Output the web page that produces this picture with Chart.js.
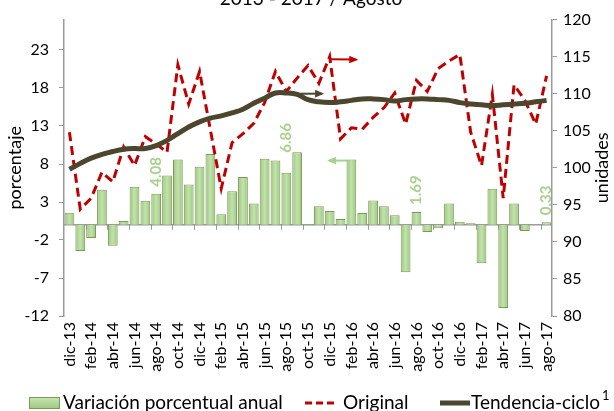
<!DOCTYPE html>
<html><head><meta charset="utf-8">
<script src="https://cdn.jsdelivr.net/npm/chart.js@4.4.0/dist/chart.umd.min.js"></script>
<style>html,body{margin:0;padding:0;background:#fff;}#wrap{width:614px;height:411px;position:relative;}</style>
</head><body><div id="wrap"><canvas id="c" width="614" height="411"></canvas></div>
<script>
const months = ['dic-13','ene-14','feb-14','mar-14','abr-14','may-14','jun-14','jul-14','ago-14','sep-14','oct-14','nov-14',
'dic-14','ene-15','feb-15','mar-15','abr-15','may-15','jun-15','jul-15','ago-15','sep-15','oct-15','nov-15',
'dic-15','ene-16','feb-16','mar-16','abr-16','may-16','jun-16','jul-16','ago-16','sep-16','oct-16','nov-16',
'dic-16','ene-17','feb-17','mar-17','abr-17','may-17','jun-17','jul-17','ago-17'];
const variacion = [1.6,-3.45,-1.75,4.6,-2.75,0.5,5.0,3.15,4.08,6.5,8.6,5.3,
7.65,9.3,1.4,4.4,6.3,2.8,8.7,8.45,6.86,9.55,-0.1,2.45,
1.8,0.75,8.6,1.55,3.2,2.45,1.25,-6.25,1.69,-0.95,-0.45,2.8,
0.4,0.2,-5.05,4.75,-10.95,2.8,-0.8,0.05,0.33];
const original = [104.8,94.4,95.9,99.4,98.1,102.8,100.3,104.2,103.2,102.1,113.9,108.6,
113.0,105.1,97.2,103.4,104.6,106.0,108.8,113.0,110.3,112.1,113.8,111.4,
115.0,103.9,105.4,105.2,106.8,108.1,110.1,105.9,111.8,110.3,113.4,114.4,
115.3,104.8,100.3,109.9,95.9,111.2,109.1,105.9,112.4];
const tendencia = [99.8,100.6,101.3,101.8,102.2,102.5,102.6,102.6,103.0,103.7,104.6,105.5,
106.2,106.7,107.0,107.4,107.9,108.7,109.4,110.1,110.1,109.9,109.2,108.9,
108.8,108.9,109.1,109.3,109.3,109.2,109.0,109.2,109.3,109.3,109.2,109.1,
108.8,108.6,108.5,108.4,108.5,108.6,108.7,108.9,109.1];
const leftTicks = [-12,-7,-2,3,8,13,18,23];
const rightTicks = [80,85,90,95,100,105,110,115,120];
const seriesNames = ['Variación porcentual anual','Original','Tendencia-ciclo'];
const titleText = '2013 - 2017 / Agosto';
const leftTitle = 'porcentaje';
const rightTitle = 'unidades';

const FONT = 'Lato, "Open Sans", sans-serif';
const GREEN = '#a9d18e';
const AXIS = '#9a9a9a';

function barFill(ctx){
  const chart = ctx.chart;
  if (!chart.chartArea || ctx.type !== 'data') return GREEN;
  const xs = chart.scales.x;
  const cx = xs.getPixelForValue(ctx.dataIndex);
  const hw = xs.width / months.length * 0.9 / 2;
  const g = chart.ctx.createLinearGradient(cx-hw,0,cx+hw,0);
  g.addColorStop(0,'#9cc77e'); g.addColorStop(0.5,'#c3e2ad'); g.addColorStop(1,'#9cc77e');
  return g;
}

function arrow(ctx,x1,y1,x2,y2,color,w,head){
  ctx.save();
  ctx.strokeStyle=color; ctx.fillStyle=color; ctx.lineWidth=w;
  ctx.beginPath(); ctx.moveTo(x1,y1); ctx.lineTo(x2,y2); ctx.stroke();
  const a=Math.atan2(y2-y1,x2-x1);
  ctx.beginPath(); ctx.moveTo(x2+Math.cos(a)*2,y2+Math.sin(a)*2);
  ctx.lineTo(x2-head*Math.cos(a)+head*0.55*Math.sin(a), y2-head*Math.sin(a)-head*0.55*Math.cos(a));
  ctx.lineTo(x2-head*Math.cos(a)-head*0.55*Math.sin(a), y2-head*Math.sin(a)+head*0.55*Math.cos(a));
  ctx.closePath(); ctx.fill();
  ctx.restore();
}

const decor = {
  id:'decor',
  beforeDatasetsDraw(chart){
    const {ctx, chartArea:a, scales:{x,y}} = chart;
    const y0 = y.getPixelForValue(0);
    ctx.save();
    ctx.strokeStyle=AXIS; ctx.lineWidth=1.5;
    ctx.beginPath(); ctx.moveTo(a.left,y0); ctx.lineTo(a.right,y0); ctx.stroke();
    ctx.lineWidth=1;
    const step = x.width/months.length;
    for(let i=2;i<months.length;i+=2){
      const px = Math.round(x.getPixelForValue(i) - step/2)+0.5;
      ctx.beginPath(); ctx.moveTo(px,y0); ctx.lineTo(px,y0+5); ctx.stroke();
    }
    ctx.restore();
  },
  afterDatasetsDraw(chart){
    const {ctx, chartArea:a, scales:{x,y,y2}} = chart;
    const meta = chart.getDatasetMeta(0);
    ctx.save();
    ctx.fillStyle=GREEN; ctx.font='bold 15px '+FONT; ctx.textAlign='left'; ctx.textBaseline='middle';
    months.forEach((m,i)=>{
      if(!m.startsWith('ago')) return;
      const el = meta.data[i];
      const lift = (i===20)?20:7;
      const top = Math.min(el.y, el.base);
      ctx.save(); ctx.translate(el.x, top-lift); ctx.rotate(-Math.PI/2);
      ctx.fillText(variacion[i].toFixed(2),0,0); ctx.restore();
    });
    ctx.restore();
    arrow(ctx, x.getPixelForValue(24.0), y2.getPixelForValue(114.65), x.getPixelForValue(26.45), y2.getPixelForValue(114.6), '#c00000', 2, 7);
    arrow(ctx, x.getPixelForValue(21.3), y2.getPixelForValue(110.0), x.getPixelForValue(23.3), y2.getPixelForValue(110.0), '#4b462d', 2, 7);
    arrow(ctx, x.getPixelForValue(25.6), y.getPixelForValue(8.45), x.getPixelForValue(23.95), y.getPixelForValue(8.45), GREEN, 2, 7);
  },
  afterDraw(chart){
    const {ctx, chartArea:a} = chart;
    ctx.save();
    ctx.fillStyle='#000';
    ctx.font='19px '+FONT; ctx.textAlign='center'; ctx.textBaseline='alphabetic';
    ctx.fillText(titleText, 311, 5);
    ctx.font='18px '+FONT; ctx.textBaseline='middle';
    const cy=(a.top+a.bottom)/2;
    ctx.save(); ctx.translate(15,cy); ctx.rotate(-Math.PI/2); ctx.fillText(leftTitle,0,0); ctx.restore();
    ctx.save(); ctx.translate(602,cy); ctx.rotate(-Math.PI/2); ctx.fillText(rightTitle,0,0); ctx.restore();
    const ly=403;
    ctx.font='19px '+FONT; ctx.textAlign='left';
    const g=ctx.createLinearGradient(0,ly-6,0,ly+6);
    g.addColorStop(0,'#c9e6b5'); g.addColorStop(1,'#9cc77e');
    ctx.fillStyle=g; ctx.fillRect(29,ly-6,31,12);
    ctx.strokeStyle='#7b9a55'; ctx.lineWidth=1; ctx.strokeRect(29.5,ly-5.5,30,11);
    ctx.fillStyle='#000'; ctx.fillText(seriesNames[0],63,ly);
    ctx.strokeStyle='#c00000'; ctx.lineWidth=3; ctx.setLineDash([7,4]);
    ctx.beginPath(); ctx.moveTo(305,ly); ctx.lineTo(338,ly); ctx.stroke(); ctx.setLineDash([]);
    ctx.fillText(seriesNames[1],343,ly);
    ctx.strokeStyle='#4b462d'; ctx.lineWidth=5;
    ctx.beginPath(); ctx.moveTo(440,ly); ctx.lineTo(470,ly); ctx.stroke();
    ctx.fillText(seriesNames[2],471,ly);
    const w=ctx.measureText(seriesNames[2]).width;
    ctx.font='13px '+FONT; ctx.fillText('1',471+w+2,ly-7);
    ctx.restore();
  }
};

new Chart(document.getElementById('c'), {
  data:{
    labels: months,
    datasets:[
      {type:'bar', label:seriesNames[0], data:variacion, yAxisID:'y', backgroundColor:barFill, borderColor:'#7b9a55', borderWidth:1, barPercentage:0.9, categoryPercentage:1, order:3},
      {type:'line', label:seriesNames[1], data:original, yAxisID:'y2', borderColor:'#c00000', borderWidth:3, borderDash:[9,5], pointRadius:0, tension:0, fill:false, order:2},
      {type:'line', label:seriesNames[2], data:tendencia, yAxisID:'y2', borderColor:'#4b462d', borderWidth:5, pointRadius:0, tension:0.4, fill:false, order:1}
    ]
  },
  options:{
    responsive:false, animation:false, devicePixelRatio:1,
    layout:{padding:{top:16,left:0,right:0,bottom:0}},
    plugins:{legend:{display:false}, tooltip:{enabled:false}, title:{display:false}},
    scales:{
      x:{offset:true, grid:{display:false, drawTicks:false}, border:{display:false},
         ticks:{autoSkip:false, minRotation:90, maxRotation:90, padding:6, color:'#000', font:{family:FONT,size:16},
                callback:(v,i)=> i%2===0 ? months[i] : ''},
         afterFit:s=>{s.height=95;}},
      y:{position:'left', min:-12, max:27,
         afterBuildTicks:s=>{s.ticks=leftTicks.map(v=>({value:v}));},
         grid:{drawOnChartArea:false, drawTicks:true, tickLength:5, color:AXIS}, border:{display:true,color:AXIS,width:1.5},
         ticks:{color:'#000', padding:10, font:{family:FONT,size:16}},
         afterFit:s=>{s.width=64;}},
      y2:{position:'right', min:80, max:120,
         afterBuildTicks:s=>{s.ticks=rightTicks.map(v=>({value:v}));},
         grid:{drawOnChartArea:false, drawTicks:true, tickLength:5, color:AXIS}, border:{display:true,color:AXIS,width:1.5},
         ticks:{color:'#000', padding:6, font:{family:FONT,size:16}},
         afterFit:s=>{s.width=62;}}
    }
  },
  plugins:[decor]
});
</script></body></html>
